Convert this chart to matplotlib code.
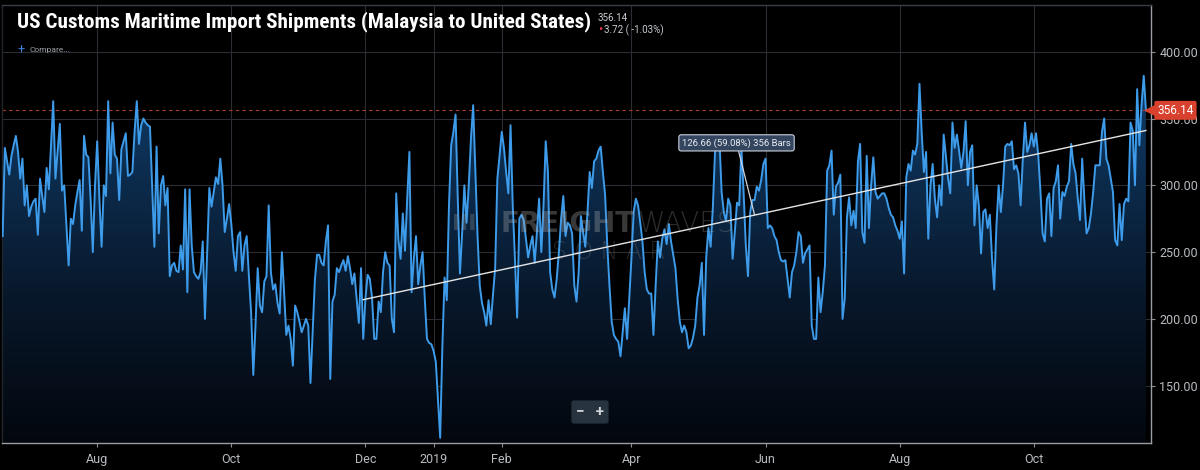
import numpy as np
import pandas as pd
import matplotlib
matplotlib.use("Agg")
import matplotlib.pyplot as plt
import matplotlib.transforms as mtransforms
from matplotlib import font_manager
from matplotlib.colors import LinearSegmentedColormap
from matplotlib.patches import Polygon
import matplotlib.dates as mdates

# daily shipments, starting 2018-06-19
start_date = "2018-06-19"
shipments = [
    262, 328, 318, 308, 322, 330, 337, 325, 305, 320,
    285, 300, 277, 284, 288, 290, 263, 305, 292, 280,
    313, 297, 330, 363, 305, 325, 346, 296, 300, 270,
    240, 275, 271, 285, 295, 304, 266, 337, 323, 321,
    290, 250, 300, 333, 290, 254, 300, 292, 363, 309,
    347, 323, 320, 289, 327, 333, 339, 307, 308, 310,
    340, 363, 331, 345, 350, 347, 345, 344, 300, 254,
    329, 264, 300, 307, 285, 298, 232, 240, 242, 236,
    235, 255, 237, 297, 220, 297, 255, 235, 232, 230,
    235, 258, 200, 250, 298, 284, 295, 306, 301, 320,
    300, 265, 275, 286, 271, 250, 236, 262, 265, 236,
    255, 262, 232, 205, 158, 195, 238, 210, 205, 228,
    232, 285, 235, 222, 226, 212, 204, 250, 220, 188,
    195, 185, 165, 210, 205, 198, 190, 195, 200, 195,
    152, 190, 229, 248, 248, 242, 240, 258, 270, 155,
    213, 218, 238, 235, 240, 244, 236, 247, 238, 226,
    234, 215, 197, 238, 185, 215, 233, 230, 216, 185,
    185, 213, 205, 235, 250, 242, 240, 200, 190, 294,
    259, 245, 279, 251, 290, 325, 220, 245, 262, 226,
    240, 250, 215, 185, 182, 181, 176, 168, 140, 111,
    180, 231, 214, 285, 330, 340, 353, 290, 234, 265,
    300, 272, 300, 335, 360, 310, 262, 225, 212, 205,
    195, 214, 196, 218, 238, 305, 322, 340, 328, 310,
    294, 345, 285, 245, 201, 275, 278, 274, 260, 246,
    255, 262, 242, 265, 290, 250, 285, 333, 310, 235,
    222, 216, 230, 250, 275, 292, 262, 272, 270, 264,
    225, 213, 235, 277, 265, 254, 280, 310, 298, 318,
    320, 326, 329, 310, 293, 255, 225, 198, 188, 185,
    183, 172, 190, 208, 185, 215, 246, 280, 290, 285,
    272, 258, 235, 222, 219, 219, 188, 225, 258, 246,
    260, 267, 256, 271, 258, 248, 238, 215, 198, 190,
    195, 190, 178, 180, 186, 195, 216, 225, 242, 188,
    246, 268, 254, 283, 325, 335, 335, 295, 280, 273,
    290, 285, 245, 265, 287, 285, 328, 295, 255, 232,
    280, 289, 289, 299, 296, 304, 316, 320, 268, 270,
    268, 262, 259, 250, 244, 243, 244, 230, 216, 235,
    240, 250, 265, 262, 242, 249, 252, 255, 195, 185,
    185, 231, 205, 220, 240, 311, 315, 326, 278, 299,
    302, 308, 200, 215, 276, 291, 270, 281, 268, 318,
    331, 265, 257, 322, 268, 300, 321, 295, 290, 292,
    294, 294, 290, 283, 278, 276, 270, 266, 260, 273,
    234, 306, 316, 311, 326, 323, 331, 376, 340, 310,
    325, 260, 300, 316, 290, 276, 300, 285, 338, 322,
    305, 294, 347, 328, 338, 326, 313, 325, 348, 300,
    325, 330, 270, 300, 285, 249, 280, 282, 268, 278,
    245, 222, 270, 300, 280, 300, 329, 331, 330, 333,
    312, 315, 309, 285, 320, 347, 325, 330, 339, 329,
    339, 323, 296, 264, 258, 290, 294, 262, 298, 303,
    315, 275, 295, 292, 299, 303, 331, 316, 309, 290,
    274, 320, 289, 264, 268, 279, 295, 315, 315, 315,
    340, 350, 320, 315, 305, 295, 259, 255, 286, 259,
    286, 290, 288, 347, 341, 300, 372, 330, 360, 382, 356.14,
]

tick_dates = ["2018-08-01", "2018-10-01", "2018-12-01", "2019-01-01", "2019-02-01",
              "2019-04-01", "2019-06-01", "2019-08-01", "2019-10-01"]
tick_labels = ["Aug", "Oct", "Dec", "2019", "Feb", "Apr", "Jun", "Aug", "Oct"]
y_ticks = [150, 200, 250, 300, 350, 400]

# trend line drawing tool
trend_bars = 356
trend_start_value = 214.39
trend_change = 126.66
trend_pct = 59.08

title = "US Customs Maritime Import Shipments (Malaysia to United States)"
last_change = 3.72
last_change_pct = -1.03

dates = pd.date_range(start_date, periods=len(shipments), freq="D")
values = np.array(shipments, dtype=float)
last = values[-1]

names = {f.name for f in font_manager.fontManager.ttflist}
narrow = next((n for n in ["Roboto Condensed", "Liberation Sans Narrow"] if n in names), None)
ui_font = "Roboto" if "Roboto" in names else "DejaVu Sans"
plt.rcParams["font.family"] = [ui_font, "DejaVu Sans"]

fig = plt.figure(figsize=(12, 4.7), dpi=100, facecolor="black")
ax = fig.add_axes([2 / 1200, 27 / 470, 1149 / 1200, 438 / 470])
ax.set_facecolor("black")

x_num = mdates.date2num(dates)
x_left = x_num[0] - 0.3
x_right = x_num[0] + 522.3
y_min, y_max = 107.1, 435.0
ax.set_xlim(x_left, x_right)
ax.set_ylim(y_min, y_max)

# gradient fill under the line
cmap = LinearSegmentedColormap.from_list("fill", ["#03070d", "#08182b", "#0d3054", "#12467a"])
grad = np.linspace(0, 1, 256).reshape(-1, 1)
im = ax.imshow(grad, extent=[x_left, x_right, y_min, y_max], origin="lower",
               aspect="auto", cmap=cmap, zorder=1)
verts = np.vstack([[x_num[0], y_min], np.column_stack([x_num, values]), [x_num[-1], y_min]])
clip = Polygon(verts, closed=True, facecolor="none", edgecolor="none", transform=ax.transData)
ax.add_patch(clip)
im.set_clip_path(clip)

ax.plot(x_num, values, color="#3d9be9", lw=1.4, zorder=3)

# grid
ax.set_xticks(mdates.date2num(pd.to_datetime(tick_dates)))
ax.set_xticklabels(tick_labels)
ax.set_yticks(y_ticks)
ax.set_yticklabels([f"{v:.2f}" for v in y_ticks])
ax.grid(True, color="#2a2e34", lw=0.8, zorder=0)
ax.set_axisbelow(True)
ax.yaxis.tick_right()
ax.tick_params(axis="both", colors="#8a8f95", labelcolor="#b8bcc1", labelsize=9, length=3)
ax.tick_params(axis="y", pad=3)
ax.tick_params(axis="x", pad=4)
for side, col in [("left", "#22262b"), ("top", "#3a3f45"), ("right", "#9a9ea4"), ("bottom", "#9a9ea4")]:
    ax.spines[side].set_color(col)
    ax.spines[side].set_linewidth(1.0)

# last value line and price label
ax.axhline(last, color="#a8402f", lw=0.8, ls=(0, (3, 3)), zorder=2)
blend = mtransforms.blended_transform_factory(ax.transAxes, ax.transData)
ax.plot([1.0], [last], marker="<", ms=8, color="#d7412d", transform=blend, clip_on=False, zorder=10)
ax.annotate(f"{last:.2f}", xy=(1.0, last), xycoords=blend, xytext=(4.5, 0),
            textcoords="offset points", ha="left", va="center", fontsize=8.5, color="white",
            bbox=dict(boxstyle="round,pad=0.25,rounding_size=0.15", fc="#d7412d", ec="none"),
            annotation_clip=False, zorder=11)

# trend line and measurement label
i0 = len(values) - 1 - trend_bars
trend_x = [x_num[i0], x_num[-1]]
trend_y = [trend_start_value, trend_start_value + trend_change]
ax.plot(trend_x, trend_y, color="#e6e6e6", lw=1.0, zorder=4)
ax.annotate(f"{trend_change:.2f} ({trend_pct:.2f}%) {trend_bars} Bars",
            xy=(np.mean(trend_x), np.mean(trend_y)), xytext=(-13, 52), textcoords="offset points",
            ha="center", va="center", fontsize=6.8, color="#e8ecf2", zorder=6,
            bbox=dict(boxstyle="round,pad=0.35,rounding_size=0.25", fc="#34465f", ec="#c9d1dc", lw=0.8),
            arrowprops=dict(arrowstyle="-", color="#cfd5de", lw=0.9, shrinkA=0, shrinkB=0))

# watermark
wm = dict(transform=ax.transAxes, va="center", color="#b0b0b0", zorder=5, family="DejaVu Sans")
ax.text(0.413, 0.50, "III", ha="right", fontsize=16, fontweight="bold", alpha=0.25, **wm)
ax.text(0.551, 0.50, "FREIGHT", ha="right", fontsize=20, fontweight="bold", alpha=0.32, **wm)
ax.text(0.553, 0.50, "WAVES", ha="left", fontsize=20, fontweight="light", alpha=0.25, **wm)
ax.text(0.528, 0.437, "S O N A R", ha="center", fontsize=17, fontweight="light", alpha=0.22, **wm)

# header texts
if narrow:
    fig.text(17 / 1200, 1 - 22 / 470, title, ha="left", va="center", fontsize=15.2,
             fontweight="bold", color="white", family=narrow)
else:
    fig.text(17 / 1200, 1 - 22 / 470, title, ha="left", va="center", fontsize=15.2,
             fontweight="bold", color="white", fontstretch="condensed")
fig.text(598 / 1200, 1 - 18 / 470, f"{last:.2f}", ha="left", va="center", fontsize=7, color="#c9cdd2")
fig.text(598 / 1200, 1 - 30 / 470, "\u2022", ha="left", va="center", fontsize=9, color="#e8374f")
fig.text(604 / 1200, 1 - 30 / 470, f"{last_change:.2f} ( {last_change_pct:.2f}%)",
         ha="left", va="center", fontsize=7, color="#c9cdd2")
fig.text(17 / 1200, 1 - 50 / 470, "+", ha="left", va="center", fontsize=9, color="#3f86e8")
fig.text(30 / 1200, 1 - 50 / 470, "Compare...", ha="left", va="center", fontsize=6, color="#9ea3a8")

# zoom buttons
fig.text(590 / 1200, 1 - 412 / 470, "\u2212   +", ha="center", va="center", fontsize=11,
         fontweight="bold", color="#d0d4d8",
         bbox=dict(boxstyle="round,pad=0.3,rounding_size=0.15", fc="#27333f", ec="none"))

fig.savefig("out.png", dpi=100, facecolor="black")
